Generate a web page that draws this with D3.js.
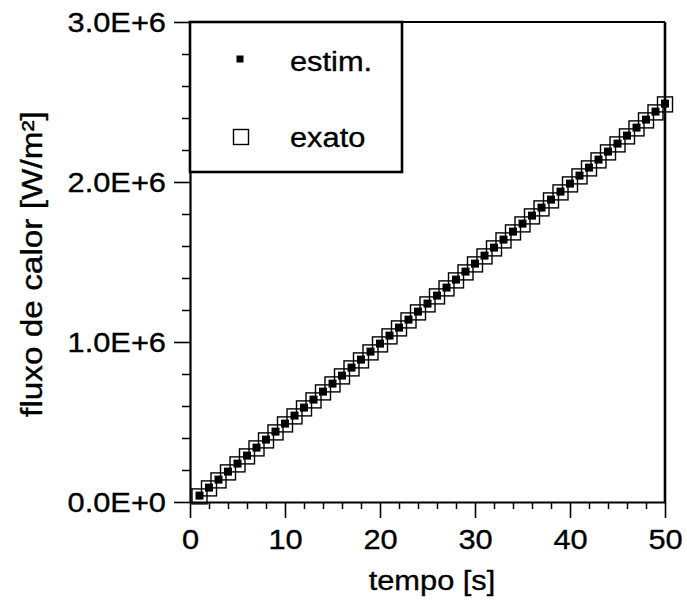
<!DOCTYPE html>
<html>
<head>
<meta charset="utf-8">
<script src="https://cdn.jsdelivr.net/npm/d3@7"></script>
<style>
  body { margin: 0; background: #fff; }
  text { font-family: "Liberation Sans", Arial, Helvetica, sans-serif; fill: #000; stroke: #000; stroke-width: 0.35px; }
</style>
</head>
<body>
<svg id="chart" width="687" height="601"></svg>
<script>
// time instants [s]
const time = [1,2,3,4,5,6,7,8,9,10,11,12,13,14,15,16,17,18,19,20,
              21,22,23,24,25,26,27,28,29,30,31,32,33,34,35,36,37,38,39,40,
              41,42,43,44,45,46,47,48,49,50];

// estimated heat flux [W/m²]
const estim = [40000,90000,140000,190000,240000,290000,340000,390000,440000,490000,
               540000,590000,640000,690000,740000,790000,840000,890000,940000,990000,
               1040000,1090000,1140000,1190000,1240000,1290000,1340000,1390000,1440000,1490000,
               1540000,1590000,1640000,1690000,1740000,1790000,1840000,1890000,1940000,1990000,
               2040000,2090000,2140000,2190000,2240000,2290000,2340000,2390000,2440000,2490000];

// exact heat flux [W/m²]
const exato = [35000,85000,135000,185000,235000,285000,335000,385000,435000,485000,
               535000,585000,635000,685000,735000,785000,835000,885000,935000,985000,
               1035000,1085000,1135000,1185000,1235000,1285000,1335000,1385000,1435000,1485000,
               1535000,1585000,1635000,1685000,1735000,1785000,1835000,1885000,1935000,1985000,
               2035000,2085000,2135000,2185000,2235000,2285000,2335000,2385000,2435000,2485000];

const xTicks = [0, 10, 20, 30, 40, 50];
const xMinorTicks = [2,4,6,8,12,14,16,18,22,24,26,28,32,34,36,38,42,44,46,48];
const yTicks = [0, 1000000, 2000000, 3000000];
const yTickLabels = ["0.0E+0", "1.0E+6", "2.0E+6", "3.0E+6"];
const yMinorTicks = [200000,400000,600000,800000,1200000,1400000,1600000,1800000,
                     2200000,2400000,2600000,2800000];

const legendItems = ["estim.", "exato"];

const FONT = 28, SX = 1.1;
const svg = d3.select("#chart");

const x = d3.scaleLinear().domain([0, 50]).range([190, 665]);
const y = d3.scaleLinear().domain([0, 3000000]).range([502, 22]);

// minor ticks
svg.append("g").attr("transform", `translate(0,${y(0)})`)
  .call(d3.axisBottom(x).tickValues(xMinorTicks).tickSize(7).tickSizeOuter(0).tickFormat(""))
  .call(g => g.select(".domain").remove())
  .call(g => g.selectAll("line").attr("stroke", "#000").attr("stroke-width", 1.5));
svg.append("g").attr("transform", `translate(${x(0)},0)`)
  .call(d3.axisLeft(y).tickValues(yMinorTicks).tickSize(8).tickSizeOuter(0).tickFormat(""))
  .call(g => g.select(".domain").remove())
  .call(g => g.selectAll("line").attr("stroke", "#000").attr("stroke-width", 1.5));

// major x axis
const gx = svg.append("g").attr("transform", `translate(0,${y(0)})`)
  .call(d3.axisBottom(x).tickValues(xTicks).tickSize(16).tickSizeOuter(0));
gx.select(".domain").attr("stroke", "#000").attr("stroke-width", 2.2);
gx.selectAll("line").attr("stroke", "#000").attr("stroke-width", 1.6);
gx.selectAll("text")
  .attr("font-size", FONT).attr("text-anchor", "middle")
  .attr("dy", null).attr("y", null)
  .attr("transform", "translate(0,47) scale(" + SX + ",1)");

// major y axis
const gy = svg.append("g").attr("transform", `translate(${x(0)},0)`)
  .call(d3.axisLeft(y).tickValues(yTicks).tickSize(16).tickSizeOuter(0)
    .tickFormat((d, i) => yTickLabels[i]));
gy.select(".domain").attr("stroke", "#000").attr("stroke-width", 2.2);
gy.selectAll("line").attr("stroke", "#000").attr("stroke-width", 1.6);
gy.selectAll("text")
  .attr("font-size", FONT).attr("text-anchor", "end")
  .attr("x", null).attr("dy", "0.35em")
  .attr("transform", "translate(-24,0) scale(" + SX + ",1)");

// frame: top and right
svg.append("line").attr("x1", x(0)).attr("x2", x(50)).attr("y1", y(3000000)).attr("y2", y(3000000))
  .attr("stroke", "#000").attr("stroke-width", 2.2);
svg.append("line").attr("x1", x(50)).attr("x2", x(50)).attr("y1", y(3000000)).attr("y2", y(0))
  .attr("stroke", "#000").attr("stroke-width", 2.6);

// exact values: open squares
const OPEN = 15, FILL = 8;
svg.append("g").selectAll("rect").data(time).join("rect")
  .attr("x", (d, i) => x(d) - OPEN / 2)
  .attr("y", (d, i) => y(exato[i]) - OPEN / 2)
  .attr("width", OPEN).attr("height", OPEN)
  .attr("fill", "none").attr("stroke", "#000").attr("stroke-width", 1.4);

// estimated values: filled squares
svg.append("g").selectAll("rect").data(time).join("rect")
  .attr("x", (d, i) => x(d) - FILL / 2)
  .attr("y", (d, i) => y(estim[i]) - FILL / 2)
  .attr("width", FILL).attr("height", FILL)
  .attr("fill", "#000");

// legend
const lg = svg.append("g");
lg.append("rect").attr("x", 190).attr("y", 22).attr("width", 212).attr("height", 150)
  .attr("fill", "#fff").attr("stroke", "#000").attr("stroke-width", 2.6);
lg.append("rect").attr("x", 240 - 7 / 2).attr("y", 59 - 7 / 2)
  .attr("width", 7).attr("height", 7).attr("fill", "#000");
lg.append("rect").attr("x", 241 - OPEN / 2).attr("y", 137 - OPEN / 2)
  .attr("width", OPEN).attr("height", OPEN)
  .attr("fill", "none").attr("stroke", "#000").attr("stroke-width", 1.4);
lg.selectAll("text.lab").data(legendItems).join("text")
  .attr("class", "lab")
  .attr("font-size", FONT)
  .attr("transform", (d, i) => `translate(290,${i === 0 ? 71 : 147}) scale(${SX},1)`)
  .text(d => d);

// axis titles
svg.append("text")
  .attr("font-size", FONT).attr("text-anchor", "middle")
  .attr("transform", `translate(432,590) scale(${SX},1)`)
  .text("tempo [s]");
svg.append("text")
  .attr("font-size", 29).attr("text-anchor", "middle")
  .attr("transform", `translate(42,264) rotate(-90) scale(1.15,1)`)
  .text("fluxo de calor [W/m²]");
</script>
</body>
</html>
